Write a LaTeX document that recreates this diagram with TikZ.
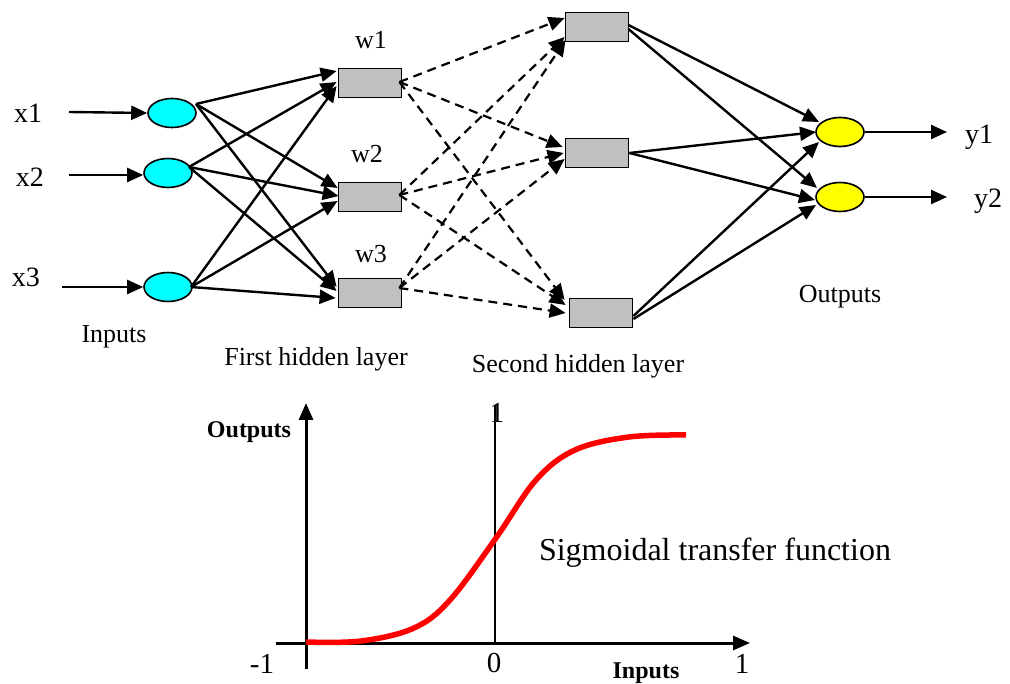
\documentclass[tikz,border=0pt]{standalone}
\usepackage{fontspec}
\setmainfont{Liberation Serif}
\usetikzlibrary{arrows.meta,calc,shapes.geometric}

\definecolor{incyan}{RGB}{0,255,255}
\definecolor{outyellow}{RGB}{255,255,0}
\definecolor{boxgray}{RGB}{192,192,192}
\definecolor{curvered}{RGB}{255,0,0}

\tikzset{
  innode/.style={ellipse,draw=black,line width=1.6pt,fill=incyan,
    minimum width=48pt,minimum height=29pt,inner sep=0pt},
  outnode/.style={innode,fill=outyellow},
  unitbox/.style={rectangle,draw=black,line width=1.8pt,fill=boxgray,
    minimum width=63pt,minimum height=29pt,inner sep=0pt},
  tip/.style={-{Triangle[length=16pt,width=14pt]}},
  link/.style={tip,line width=2.4pt},
  dlink/.style={tip,line width=2.2pt,dash pattern=on 9pt off 6pt},
  lbl/.style={inner sep=0pt,font=\fontsize{26}{30}\selectfont},
  biglbl/.style={inner sep=0pt,font=\fontsize{28}{32}\selectfont},
  axlbl/.style={inner sep=0pt,font=\fontsize{24}{28}\selectfont\bfseries},
  numlbl/.style={inner sep=0pt,font=\fontsize{29}{33}\selectfont},
  axis/.style={line width=3pt,-{Triangle[length=17pt,width=14pt]}},
}

\begin{document}
\begin{tikzpicture}[x=1pt,y=-1pt]
\useasboundingbox (0,0) rectangle (1010,684);

% ---------- network ----------
% input layer
\node[innode] (i1) at (172,113) {};
\node[innode] (i2) at (168,173) {};
\node[innode] (i3) at (168,287) {};

% first hidden layer
\node[unitbox] (h1) at (370,83) {};
\node[unitbox] (h2) at (370,197) {};
\node[unitbox] (h3) at (370,293) {};

% second hidden layer
\node[unitbox] (a) at (597,27) {};
\node[unitbox] (b) at (597,153) {};
\node[unitbox] (c) at (601,313) {};

% output layer
\node[outnode] (o1) at (840,132) {};
\node[outnode] (o2) at (840,197) {};

% labels
\node[biglbl] (lx1) at (28,113) {x1};
\node[biglbl] (lx2) at (30,177) {x2};
\node[biglbl] (lx3) at (26,277) {x3};
\node[lbl] (lw1) at (371,40) {w1};
\node[lbl] (lw2) at (367,154) {w2};
\node[lbl] (lw3) at (371,254) {w3};
\node[biglbl] (ly1) at (979,137) {y1};
\node[biglbl] (ly2) at (988,201) {y2};
\node[lbl] (lin) at (114,337) {Inputs};
\node[lbl] (lfh) at (316,359) {First hidden layer};
\node[lbl] (lsh) at (578,366) {Second hidden layer};
\node[lbl] (lout) at (840,297) {Outputs};

% input arrows
\coordinate (x1s) at (69,112);
\coordinate (x2s) at (69,175);
\coordinate (x3s) at (62,287);
\draw[link] (x1s) -- (i1.west);
\draw[link] (x2s) -- ($(i2.west)+(0,2)$);
\draw[link] (x3s) -- (i3.west);

% output arrows
\coordinate (y1e) at (947,132);
\coordinate (y2e) at (947,197);
\draw[link] (o1.east) -- (y1e);
\draw[link] (o2.east) -- (y2e);

% input layer -> first hidden layer
\coordinate (s1) at ($(i1.center)+(24,-9)$);
\coordinate (s2) at ($(i2.center)+(21,-6)$);
\coordinate (s3) at ($(i3.center)+(23,0)$);
\draw[link] (s1) -- ($(h1.west)+(-1,-12)$);
\draw[link] (s1) -- ($(h2.west)+(0,-9)$);
\draw[link] (s1) -- ($(h3.west)+(-1,-6)$);
\draw[link] (s2) -- ($(h1.west)+(-1,-1)$);
\draw[link] (s2) -- ($(h2.west)+(1,-1)$);
\draw[link] (s2) -- ($(h3.west)+(-1,-2)$);
\draw[link] (s3) -- ($(h1.west)+(-1,3)$);
\draw[link] (s3) -- ($(h2.west)+(0,4)$);
\draw[link] (s3) -- ($(h3.west)+(-2,5)$);

% first hidden layer -> second hidden layer
\coordinate (t1) at ($(h1.east)+(-3,-1)$);
\coordinate (t2) at ($(h2.east)+(-3,-2)$);
\coordinate (t3) at ($(h3.east)+(-3,-5)$);
\draw[dlink] (t1) -- ($(a.west)+(0,-9)$);
\draw[dlink] (t1) -- ($(b.west)+(-2,-6)$);
\draw[dlink] (t1) -- ($(c.west)+(-4,-13)$);
\draw[dlink] (t2) -- ($(a.west)+(0,10)$);
\draw[dlink] (t2) -- ($(b.west)+(-1,0)$);
\draw[dlink] (t2) -- ($(c.west)+(-3,-8)$);
\draw[dlink] (t3) -- ($(a.west)+(1,13)$);
\draw[dlink] (t3) -- ($(b.west)+(0,6)$);
\draw[dlink] (t3) -- ($(c.west)+(-3,0)$);

% second hidden layer -> output layer
\draw[link] ($(a.east)+(-1,-2)$) -- ($(o1.center)+(-21,-10)$);
\draw[link] ($(a.east)+(-1,2)$) -- ($(o2.center)+(-23,-9)$);
\draw[link] (b.east) -- ($(o1.center)+(-24,0)$);
\draw[link] (b.east) -- ($(o2.center)+(-25,3)$);
\draw[link] ($(c.east)+(0,3)$) -- ($(o1.center)+(-21,10)$);
\draw[link] ($(c.east)+(0,6)$) -- ($(o2.center)+(-24,8)$);

% ---------- sigmoid transfer function ----------
\coordinate (xa0) at (276,643);
\coordinate (xa1) at (750,643);
\coordinate (ya0) at (306,669);
\coordinate (ya1) at (306,403);
\coordinate (za0) at (495,643);
\coordinate (za1) at (495,405);
\draw[line width=1.4pt] (za0) -- (za1);
\draw[axis] (xa0) -- (xa1);
\draw[axis] (ya0) -- (ya1);
\draw[curvered,line width=5.5pt] plot[smooth,tension=0.6] coordinates
  {(306,642) (361,641) (414,628) (450,600) (496,538) (536,480) (575,450) (629,437) (686,435)};

\node[axlbl] (lyo) at (249,432) {Outputs};
\node[axlbl] (lxi) at (646,673) {Inputs};
\node[numlbl] (lm1) at (262,664) {-1};
\node[numlbl] (l0) at (494,663) {0};
\node[numlbl] (l1) at (742,664) {1};
\node[numlbl] (l1t) at (497,413) {1};
\node[inner sep=0pt,font=\fontsize{32}{36}\selectfont] (lsig) at (715,553) {Sigmoidal transfer function};
\end{tikzpicture}
\end{document}
